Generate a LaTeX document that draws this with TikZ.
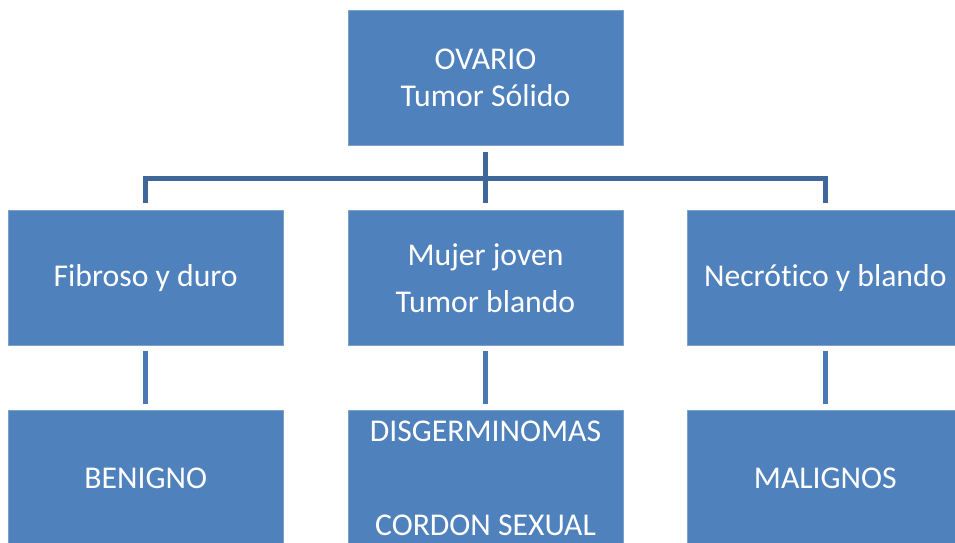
\documentclass[tikz,border=0pt]{standalone}
\usepackage{fontspec}
\setmainfont{Carlito}[Ligatures=NoCommon]
\usetikzlibrary{positioning}
\definecolor{boxblue}{HTML}{4F81BD}
\definecolor{linkdark}{HTML}{40679A}
\definecolor{linklight}{HTML}{4A78B3}

\begin{document}
\begin{tikzpicture}[x=1pt, y=1pt,
        block/.style={fill=boxblue, draw=boxblue!75!white, line width=0.8pt, minimum width=275pt, minimum height=135pt, inner sep=0pt, align=center, text=white, font=\fontsize{31.7}{37}\selectfont},
        link/.style={line width=5pt},
        node distance=65pt and 64pt]

        \clip (0,0) rectangle (955,-542);

        % Cajas
        \node (ovario) [block] at (485.5,-77.5) {OVARIO\\Tumor Sólido};
        \node (mujer) [block, below=of ovario] {Mujer joven\\[10pt]Tumor blando};
        \node (fibroso) [block, left=of mujer] {Fibroso y duro};
        \node (necrotico) [block, right=of mujer] {Necrótico y blando};

        \node (benigno) [block, below=64pt of fibroso] {BENIGNO};
        \node (disger) [block, below=64pt of mujer] {DISGERMINOMAS\\[57pt]CORDON SEXUAL};
        \node (malignos) [block, below=64pt of necrotico] {MALIGNOS};

        % Conexiones
        \coordinate (bus) at ([yshift=-33pt]ovario.south);
        \draw[link, linkdark] ([yshift=-7pt]ovario.south) -- ([yshift=7pt]mujer.north);
        \draw[link, linkdark] ([yshift=7pt]fibroso.north) |- (bus) -| ([yshift=7pt]necrotico.north);

        \draw[link, linklight] ([yshift=-5pt]fibroso.south) -- ([yshift=6pt]benigno.north);
        \draw[link, linklight] ([yshift=-5pt]mujer.south) -- ([yshift=6pt]disger.north);
        \draw[link, linklight] ([yshift=-5pt]necrotico.south) -- ([yshift=6pt]malignos.north);

\end{tikzpicture}
\end{document}
